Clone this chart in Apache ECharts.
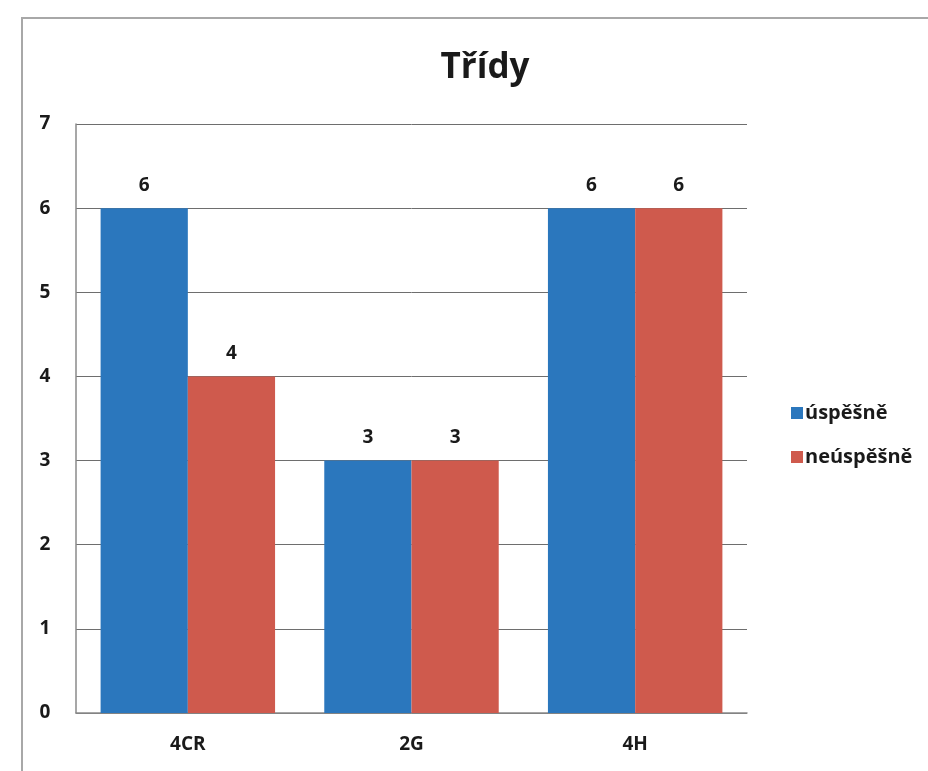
<!DOCTYPE html>
<html>
<head>
<meta charset="utf-8">
<script src="https://cdn.jsdelivr.net/npm/echarts@6/dist/echarts.min.js"></script>
<style>
  html, body { margin: 0; padding: 0; background: #fff; }
  #chart { width: 928px; height: 771px; }
</style>
</head>
<body>
<div id="chart"></div>
<script>
// Class results: number of successful / unsuccessful students per class
const categories = ['4CR', '2G', '4H'];
const successful = [6, 3, 6];
const unsuccessful = [4, 3, 6];
const seriesNames = ['úspěšně', 'neúspěšně'];
const titleText = 'Třídy';

const FONT = '"Open Sans", "DejaVu Sans", sans-serif';
const labelStyle = { fontFamily: FONT, fontWeight: 'bold', fontSize: 19, color: '#1a1a1a' };

const chart = echarts.init(document.getElementById('chart'), null, { renderer: 'canvas' });

chart.setOption({
  animation: false,
  backgroundColor: '#ffffff',
  title: {
    text: titleText,
    left: 480,
    top: 46,
    textAlign: 'center',
    textStyle: { fontFamily: FONT, fontWeight: 'bold', fontSize: 35, color: '#1a1a1a' }
  },
  graphic: [{
    type: 'rect',
    shape: { x: 22, y: 18, width: 1000, height: 1000 },
    style: { fill: 'none', stroke: '#a8a8a8', lineWidth: 2 },
    silent: true
  }],
  legend: {
    orient: 'vertical',
    left: 786,
    top: 398,
    itemWidth: 12,
    itemHeight: 12,
    itemGap: 24,
    icon: 'rect',
    textStyle: Object.assign({}, labelStyle, { fontSize: 20, padding: [0, 0, 0, -3] }),
    data: seriesNames
  },
  grid: { left: 76, right: 181, top: 124, bottom: 58, containLabel: false },
  xAxis: {
    type: 'category',
    data: categories,
    axisLine: { show: true, lineStyle: { color: '#8a8a8a', width: 1.5 } },
    axisTick: { show: false },
    axisLabel: Object.assign({}, labelStyle, { margin: 22 })
  },
  yAxis: {
    type: 'value',
    min: 0,
    max: 7,
    interval: 1,
    axisLine: { show: true, lineStyle: { color: '#8a8a8a', width: 1.5 } },
    axisTick: { show: false },
    axisLabel: Object.assign({}, labelStyle, { margin: 31, align: 'center' }),
    splitLine: { show: true, lineStyle: { color: '#6e6e6e', width: 1 } }
  },
  series: [
    {
      name: seriesNames[0],
      type: 'bar',
      data: successful,
      barGap: '0%',
      barCategoryGap: '22%',
      itemStyle: { color: '#2b77bd' },
      label: Object.assign({ show: true, position: 'top', distance: 13 }, labelStyle)
    },
    {
      name: seriesNames[1],
      type: 'bar',
      data: unsuccessful,
      itemStyle: { color: '#cf5a4d' },
      label: Object.assign({ show: true, position: 'top', distance: 13 }, labelStyle)
    }
  ]
});
</script>
</body>
</html>
